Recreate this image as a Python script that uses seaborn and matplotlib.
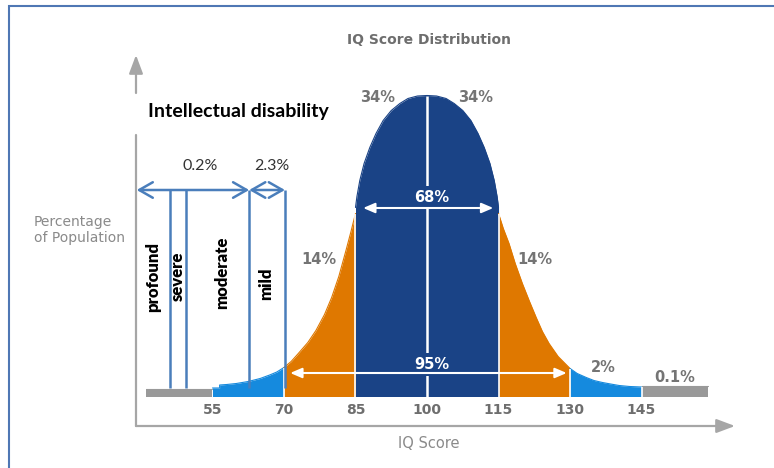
import numpy as np
import matplotlib
matplotlib.use("Agg")
import matplotlib.pyplot as plt
from matplotlib.patches import Rectangle
import seaborn as sns

sns.set_theme(style="white")
plt.rcParams["font.family"] = ["DejaVu Sans"]

# curve: IQ score -> height of the bell (pixels above baseline)
gray_left_iq = [41, 55]
gray_left_h = [7.5, 7.5]
blue_left_iq = [55, 56.5, 56.5, 58, 60, 62.5, 65, 67, 68.5, 70]
blue_left_h = [8.5, 8.5, 11.5, 12, 13, 15, 18, 21.5, 24.5, 29]
orange_left_iq = [70, 71.5, 73, 75, 76.7, 78.5, 80, 81.5, 83, 84, 85]
orange_left_h = [29, 35, 43, 54, 66, 82, 99, 120, 146, 164, 183]
center_iq = [85, 85.3, 85.9, 86.8, 88, 89.3, 90.8, 92.5, 94.3, 96, 98, 100,
             102, 104, 105.7, 107.5, 109.2, 110.7, 112, 113.2, 114.1, 114.7, 115]
center_h = [189, 200, 216, 233, 249, 263, 276, 286, 293, 298, 300.5, 301,
            300.5, 298, 293, 286, 276, 263, 249, 233, 216, 200, 189]
orange_right_iq = [115, 116, 117.2, 118.5, 120, 121.5, 122.9, 124.2, 125.6, 127.5, 130]
orange_right_h = [183, 168, 153, 133, 113, 95, 79, 65, 53, 40, 28]
blue_right_iq = [130, 131.5, 133.4, 135, 136.8, 138.5, 140.3, 142.5, 145]
blue_right_h = [28, 23, 19, 16, 14, 12.5, 11, 10, 9.5]
gray_right_iq = [145, 159]
gray_right_h = [10.5, 10.5]

tick_scores = [55, 70, 85, 100, 115, 130, 145]
disability_labels = ["profound", "severe", "moderate", "mild"]
disability_cuts = [46, 49.5, 62.7, 70.2]

C_DARK = "#1a4386"
C_ORANGE = "#df7800"
C_LIGHT = "#158ade"
C_GRAY = "#999999"
C_LINE = "#4a7ebb"
C_TEXT = "#747474"

fig = plt.figure(figsize=(7.74, 4.68), dpi=100)
ax = fig.add_axes([136 / 774, 1 - 426 / 468, 599 / 774, 371 / 468])
ax.set_xlim(38.96, 164.6)
ax.set_ylim(-29.5, 341.5)

bands = [
    (gray_left_iq, gray_left_h, C_GRAY),
    (blue_left_iq, blue_left_h, C_LIGHT),
    (orange_left_iq, orange_left_h, C_ORANGE),
    (center_iq, center_h, C_DARK),
    (orange_right_iq, orange_right_h, C_ORANGE),
    (blue_right_iq, blue_right_h, C_LIGHT),
    (gray_right_iq, gray_right_h, C_GRAY),
]
for iq, h, c in bands:
    ax.fill_between(iq, 0, h, color=c, lw=0)
    sns.lineplot(x=iq, y=h, color=c, lw=0.8, estimator=None, sort=False, ax=ax)

# white separators between bands
for iq, h in [(70, 29), (85, 183), (115, 183), (130, 28), (145, 9.5)]:
    ax.vlines(iq, 0, h, color="white", lw=1.2)
ax.vlines(100, 0, 301, color="white", lw=1.8)

lab = dict(fontsize=10.5, fontweight="bold", ha="center", va="center")
ax.text(101.0, 199.5, "68%", color="white", zorder=3,
        bbox=dict(fc=C_DARK, ec="none", pad=2.5), **lab)
ax.text(101.0, 32, "95%", color="white", zorder=3,
        bbox=dict(fc=C_DARK, ec="none", pad=3), **lab)
ax.text(89.7, 298.5, "34%", color=C_TEXT, **lab)
ax.text(110.1, 298.5, "34%", color=C_TEXT, **lab)
ax.text(77.3, 136.5, "14%", color=C_TEXT, **lab)
ax.text(122.7, 136.5, "14%", color=C_TEXT, **lab)
ax.text(136.9, 29.5, "2%", color=C_TEXT, **lab)
ax.text(152.0, 19.5, "0.1%", color=C_TEXT, **lab)

# white range arrows, on top of the label boxes
wprops = dict(arrowstyle="<|-|>,head_length=0.7,head_width=0.3", color="white",
              lw=1.5, mutation_scale=10, shrinkA=0, shrinkB=0)
for xa, xb, y in [(86.6, 113.9, 188.5), (71.3, 129.3, 23.5)]:
    ax.annotate("", xy=(xa, y), xytext=(xb, y), arrowprops=wprops, zorder=5)

# intellectual disability markers
ax.vlines(disability_cuts, 9, 206.5, color=C_LINE, lw=1.8)
bprops = dict(arrowstyle="<->,head_length=0.7,head_width=0.4", color=C_LINE,
              lw=1.8, mutation_scale=14, shrinkA=0, shrinkB=0)
ax.annotate("", xy=(39.1, 206.5), xytext=(disability_cuts[2], 206.5), arrowprops=bprops)
ax.annotate("", xy=(disability_cuts[2], 206.5), xytext=(disability_cuts[3], 206.5), arrowprops=bprops)
ax.text(52.4, 230.5, "0.2%", fontsize=11.5, family="Lato", color="#333333", ha="center", va="center")
ax.text(67.5, 230.5, "2.3%", fontsize=11.5, family="Lato", color="#333333", ha="center", va="center")
ax.text(60.5, 284.5, "Intellectual disability", fontsize=14, family="Lato",
        fontweight="bold", color="black", ha="center", va="center")
for name, x, y in zip(disability_labels, [42.5, 47.8, 57.0, 66.2], [119.5, 120.5, 123.5, 112.5]):
    ax.text(x, y, name, rotation=90, fontsize=12, family="Lato", fontweight="heavy",
            color="black", ha="center", va="center")

# axes drawn as arrows
for s in ax.spines.values():
    s.set_visible(False)
ax.set_yticks([])
ax.set_xticks(tick_scores, [str(t) for t in tick_scores])
ax.tick_params(axis="x", length=0, pad=-16.5, labelsize=10, labelcolor="#6e6e6e")
for t in ax.get_xticklabels():
    t.set_fontweight("bold")
AX_GRAY = "#a6a6a6"
ax.plot([0, 0], [0, 0.784], color=AX_GRAY, lw=1.6, transform=ax.transAxes, clip_on=False)
aprops = dict(arrowstyle="-|>,head_length=0.8,head_width=0.3", color=AX_GRAY, lw=1.6,
              mutation_scale=14, shrinkA=0, shrinkB=0)
ax.annotate("", xy=(0, 1.0), xytext=(0, 0.8976), xycoords="axes fraction", arrowprops=aprops)
ax.annotate("", xy=(1.0, 0), xytext=(0, 0), xycoords="axes fraction", arrowprops=aprops)

fig.text(429 / 774, 1 - 40 / 468, "IQ Score Distribution", fontsize=10, fontweight="bold",
         color="#6e6e6e", ha="center", va="center")
fig.text(429 / 774, 1 - 443 / 468, "IQ Score", fontsize=10.5, color="#8a8a8a",
         ha="center", va="center")
fig.text(34 / 774, 1 - 230 / 468, "Percentage\nof Population", fontsize=10, color="#8a8a8a",
         ha="left", va="center", linespacing=1.1)

fig.add_artist(Rectangle((9 / 774, -0.1), 1.2, 1 - 6 / 468 + 0.1, transform=fig.transFigure,
                         fill=False, ec="#4f77b4", lw=1.5))

fig.savefig("out.png", dpi=100)
